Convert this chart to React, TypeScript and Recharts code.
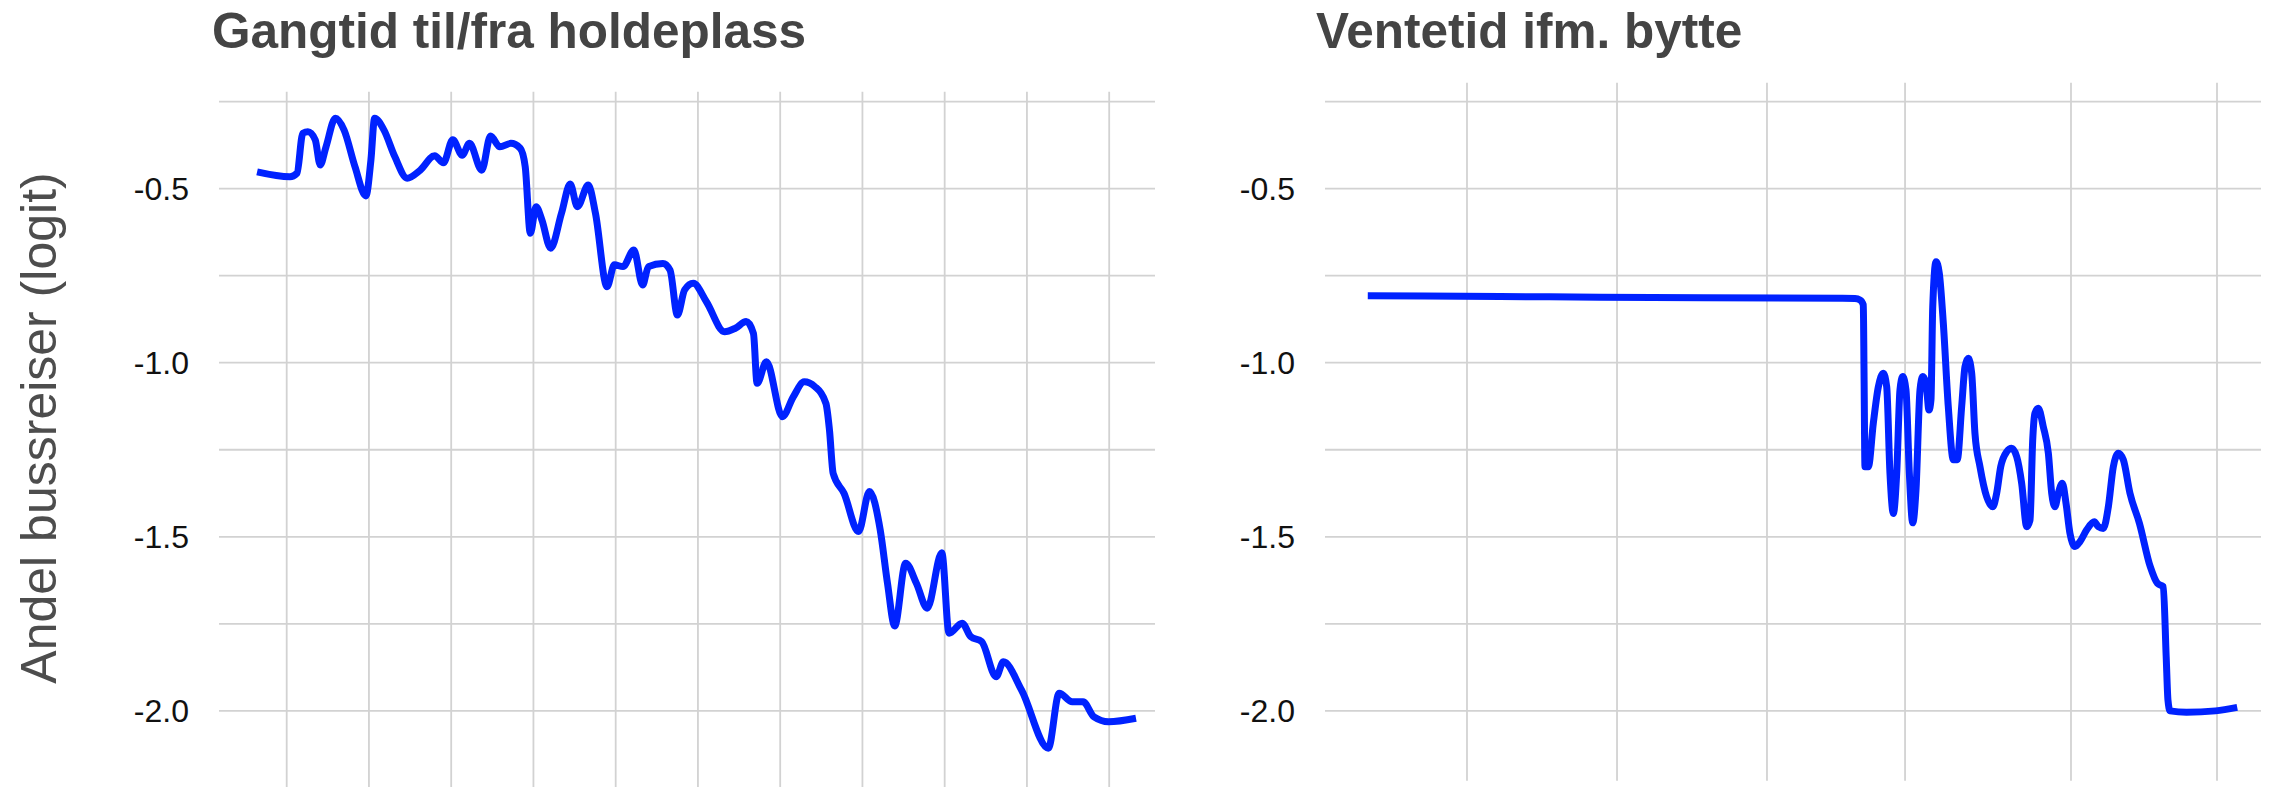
import React from 'react';
import { LineChart, Line, XAxis, YAxis, CartesianGrid } from 'recharts';

// ---- Data ----
const gangX = [
  0.64, 1.04, 1.125, 1.196, 1.258, 1.347, 1.407, 1.478, 1.592, 1.698,
  1.83, 1.963, 2.024, 2.069, 2.183, 2.314, 2.465, 2.623, 2.799, 2.905,
  3.019, 3.134, 3.222, 3.372, 3.478, 3.592, 3.725, 3.839, 3.9, 3.962,
  4.032, 4.103, 4.209, 4.341, 4.447, 4.534, 4.667, 4.754, 4.895, 4.984,
  5.089, 5.221, 5.327, 5.398, 5.574, 5.661, 5.75, 5.838, 5.943, 6.103,
  6.323, 6.455, 6.587, 6.675, 6.719, 6.833, 7.027, 7.159, 7.292, 7.423,
  7.556, 7.599, 7.644, 7.776, 7.952, 8.085, 8.216, 8.305, 8.392, 8.525,
  8.657, 8.788, 8.965, 9.053, 9.212, 9.317, 9.45, 9.626, 9.714, 9.934,
  10.26, 10.392, 10.55, 10.683, 10.815, 10.992, 11.326,
];
const gangY = [
  -0.452, -0.466, -0.456, -0.341, -0.337, -0.36, -0.432, -0.38, -0.298, -0.332,
  -0.437, -0.521, -0.418, -0.298, -0.332, -0.408, -0.47, -0.447, -0.406, -0.426,
  -0.36, -0.404, -0.37, -0.447, -0.349, -0.38, -0.37, -0.384, -0.437, -0.628,
  -0.552, -0.59, -0.671, -0.571, -0.487, -0.552, -0.49, -0.571, -0.782, -0.719,
  -0.724, -0.676, -0.777, -0.724, -0.715, -0.734, -0.863, -0.791, -0.772, -0.825,
  -0.911, -0.901, -0.882, -0.916, -1.059, -0.997, -1.155, -1.098, -1.055, -1.069,
  -1.117, -1.193, -1.318, -1.375, -1.485, -1.37, -1.48, -1.634, -1.756, -1.576,
  -1.634, -1.705, -1.546, -1.777, -1.748, -1.787, -1.801, -1.902, -1.859, -1.94,
  -2.107, -1.949, -1.974, -1.974, -2.017, -2.031, -2.021,
];

const venteX = [
  4.57, 18.7, 29.38, 55.28, 56.62, 57.16, 57.51, 57.59, 57.69, 58.05,
  58.58, 59.12, 59.65, 60.01, 60.36, 60.72, 61.08, 61.43, 61.72, 62.07,
  62.43, 62.79, 63.14, 63.57, 63.86, 64.21, 64.53, 64.74, 64.93, 65.28,
  65.63, 66.06, 66.59, 67.13, 67.55, 68.02, 68.38, 68.73, 69.09, 69.44,
  69.98, 70.69, 71.34, 71.76, 72.19, 72.83, 73.36, 73.9, 74.43, 74.97,
  75.32, 75.61, 75.85, 76.21, 76.74, 77.28, 77.64, 77.99, 78.34, 78.77,
  79.17, 79.59, 80.13, 80.66, 81.38, 82.19, 82.62, 83.15, 83.69, 84.22,
  84.76, 85.29, 86.0, 87.01, 88.17, 88.94, 89.56, 89.87, 90.06, 90.28,
  92.04, 95.14, 97.46,
];
const venteY = [
  -0.808, -0.81, -0.812, -0.815, -0.816, -0.82, -0.834, -1.03, -1.299, -1.299,
  -1.174, -1.069, -1.03, -1.069, -1.318, -1.433, -1.318, -1.078, -1.04, -1.078,
  -1.318, -1.46, -1.366, -1.078, -1.04, -1.059, -1.136, -1.107, -0.839, -0.71,
  -0.743, -0.887, -1.126, -1.279, -1.279, -1.126, -1.011, -0.987, -1.03, -1.203,
  -1.299, -1.385, -1.414, -1.375, -1.299, -1.256, -1.246, -1.27, -1.346, -1.471,
  -1.452, -1.222, -1.145, -1.131, -1.184, -1.26, -1.375, -1.414, -1.375, -1.346,
  -1.404, -1.49, -1.528, -1.514, -1.48, -1.457, -1.471, -1.476, -1.414, -1.299,
  -1.26, -1.279, -1.375, -1.461, -1.586, -1.634, -1.643, -1.844, -1.969, -2.0,
  -2.004, -2.0, -1.99,
];

const gangXTicks = [1, 2, 3, 4, 5, 6, 7, 8, 9, 10, 11];
const venteXTicks = [15.17, 31.2, 47.22, 61.97, 79.7, 95.3];
const yTicks = [-2.0, -1.75, -1.5, -1.25, -1.0, -0.75, -0.5, -0.25];

const titles = ['Gangtid til/fra holdeplass', 'Ventetid ifm. bytte'];
const yTitle = 'Andel bussreiser (logit)';

const gangData = gangX.slice(0, Math.min(gangX.length, gangY.length)).map((x, i) => ({ x, y: gangY[i] }));
const venteData = venteX.slice(0, Math.min(venteX.length, venteY.length)).map((x, i) => ({ x, y: venteY[i] }));

const FONT = "'Liberation Sans', Arial, Helvetica, sans-serif";
const GRID = '#d2d2d2';
const LINE = '#0022ff';

const fmtY = (v: number) => {
  const major = Math.abs(v * 2 - Math.round(v * 2)) < 1e-6;
  return major ? v.toFixed(1) : '';
};

const tickStyle = { fontSize: 32, fill: '#111111', fontFamily: FONT };
const EmptyTick = () => <g />;

export default function App() {
  return (
    <div
      style={{
        position: 'fixed',
        left: 0,
        top: 0,
        width: 2272,
        height: 787,
        overflow: 'hidden',
        background: '#ffffff',
      }}
    >
      <div style={{ position: 'absolute', left: 0, top: 0 }}>
        <LineChart
          width={1160}
          height={790}
          data={gangData}
          margin={{ top: 91.7, right: 5, bottom: 0.3, left: 0 }}
        >
          <CartesianGrid stroke={GRID} strokeWidth={1.8} fill="none" syncWithTicks />
          <XAxis
            dataKey="x"
            type="number"
            domain={[0.177, 11.557]}
            ticks={gangXTicks}
            allowDataOverflow
            height={0}
            tick={EmptyTick}
            axisLine={false}
            tickLine={false}
            interval={0}
          />
          <YAxis
            type="number"
            domain={[-2.2263, -0.2217]}
            ticks={yTicks}
            allowDataOverflow
            width={219}
            axisLine={false}
            tickLine={false}
            tickSize={0}
            tickMargin={30}
            interval={0}
            tickFormatter={fmtY}
            tick={tickStyle}
          />
          <Line
            type="monotone"
            dataKey="y"
            stroke={LINE}
            strokeWidth={7}
            dot={false}
            activeDot={false}
            isAnimationActive={false}
          />
        </LineChart>
      </div>
      <div style={{ position: 'absolute', left: 1160, top: 0 }}>
        <LineChart
          width={1112}
          height={787}
          data={venteData}
          margin={{ top: 82.7, right: 11, bottom: 6.3, left: 0 }}
        >
          <CartesianGrid stroke={GRID} strokeWidth={1.8} fill="none" syncWithTicks />
          <XAxis
            dataKey="x"
            type="number"
            domain={[0, 100]}
            ticks={venteXTicks}
            allowDataOverflow
            height={0}
            tick={EmptyTick}
            axisLine={false}
            tickLine={false}
            interval={0}
          />
          <YAxis
            type="number"
            domain={[-2.2005, -0.1959]}
            ticks={yTicks}
            allowDataOverflow
            width={165}
            axisLine={false}
            tickLine={false}
            tickSize={0}
            tickMargin={30}
            interval={0}
            tickFormatter={fmtY}
            tick={tickStyle}
          />
          <Line
            type="monotone"
            dataKey="y"
            stroke={LINE}
            strokeWidth={7}
            dot={false}
            activeDot={false}
            isAnimationActive={false}
          />
        </LineChart>
      </div>
      <svg
        width={2272}
        height={787}
        style={{ position: 'absolute', left: 0, top: 0, pointerEvents: 'none' }}
      >
        <text x={212} y={48} fontFamily={FONT} fontWeight="bold" fontSize={49.5} fill="#444444">
          {titles[0]}
        </text>
        <text x={1316} y={48} fontFamily={FONT} fontWeight="bold" fontSize={49.5} fill="#444444">
          {titles[1]}
        </text>
        <text
          transform="translate(56, 428) rotate(-90)"
          textAnchor="middle"
          fontFamily={FONT}
          fontSize={50}
          fill="#4d4d4d"
        >
          {yTitle}
        </text>
      </svg>
    </div>
  );
}
